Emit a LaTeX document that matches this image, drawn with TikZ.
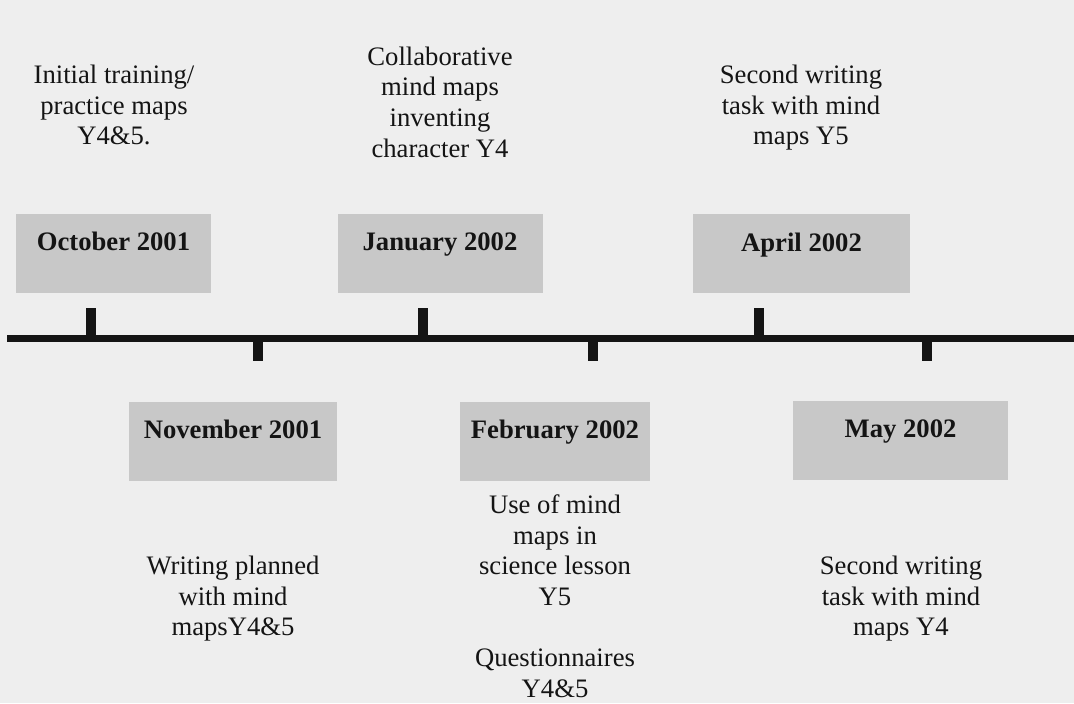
\documentclass[tikz,border=0pt]{standalone}
\usepackage{fontspec}
\setmainfont{Liberation Serif}
\definecolor{bggray}{HTML}{EEEEEE}
\definecolor{boxgray}{HTML}{C8C8C8}
\definecolor{ink}{HTML}{141414}
\begin{document}
\begin{tikzpicture}[x=0.75pt,y=-0.75pt,
  datebox/.style={fill=boxgray, inner sep=0pt, minimum width=#1,
    text height=27.75pt, text depth=31.5pt, text=ink,
    font=\bfseries\fontsize{20}{23}\selectfont},
  note/.style={inner sep=0pt, align=center, text=ink,
    font=\fontsize{20}{23}\selectfont},
  axis/.style={draw=ink, line width=5.25pt},
  tickmark/.style={fill=ink}]
\fill[bggray] (0,0) rectangle (1074,703);
\useasboundingbox (0,0) rectangle (1074,703);

% date boxes
\node[datebox=146.25pt] (oct) at (113.5,253) {October 2001};
\node[datebox=153.75pt] (jan) at (440,253) {January 2002};
\node[datebox=162.75pt] (apr) at (801.5,253.5) {April 2002};
\node[datebox=156pt] (nov) at (233,441) {November 2001};
\node[datebox=142.5pt] (feb) at (555,441) {February 2002};
\node[datebox=161.25pt] (may) at (900.5,440) {May 2002};

% notes
\node[note] (octnote) at (114,108) {\strut Initial training/\\\strut practice maps\\\strut Y4\&5.};
\node[note] (jannote) at (440,105) {\strut Collaborative\\\strut mind maps\\\strut inventing\\\strut character Y4};
\node[note] (aprnote) at (801,108) {\strut Second writing\\\strut task with mind\\\strut maps Y5};
\node[note] (novnote) at (233,599) {\strut Writing planned\\\strut with mind\\\strut mapsY4\&5};
\node[note] (febnote) at (555,599.5) {\strut Use of mind\\\strut maps in\\\strut science lesson\\\strut Y5\\\strut\\\strut Questionnaires\\\strut Y4\&5};
\node[note] (maynote) at (901,599) {\strut Second writing\\\strut task with mind\\\strut maps Y4};

% timeline
\coordinate (tl0) at (7,338);
\coordinate (tl1) at (1074,338);
\draw[axis] (tl0) -- (tl1);

% ticks
\foreach \x in {91,423,758.5}{
  \fill[tickmark] (\x-5,308) rectangle (\x+5,338);
}
\foreach \x in {258,592.5,926.5}{
  \fill[tickmark] (\x-5,338) rectangle (\x+5,361);
}
\end{tikzpicture}
\end{document}
